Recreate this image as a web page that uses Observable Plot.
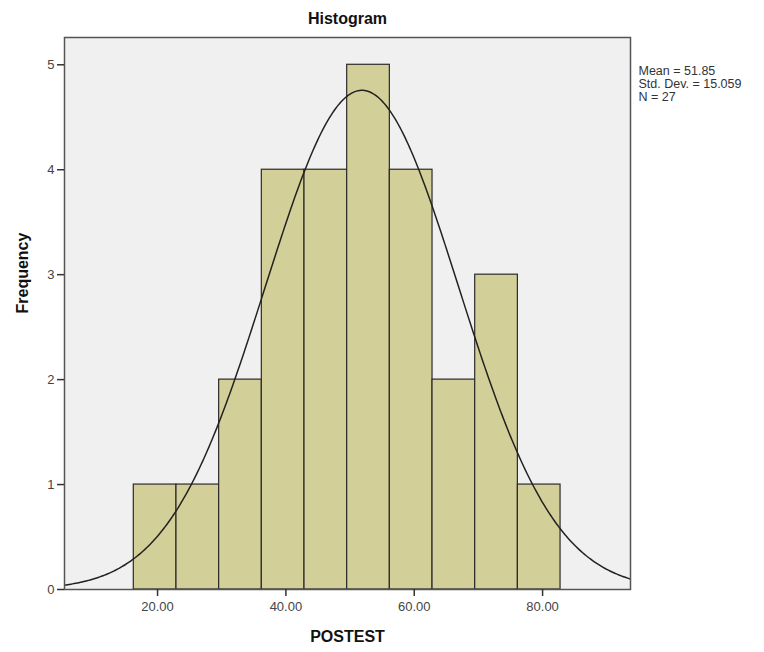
<!DOCTYPE html>
<html><head><meta charset="utf-8">
<script src="https://cdn.jsdelivr.net/npm/d3@7"></script>
<script src="https://cdn.jsdelivr.net/npm/@observablehq/plot@0.6"></script>
<style>
body{margin:0;background:#fff;font-family:Arial,"Liberation Sans",sans-serif;}
</style></head><body>
<div id="chart"></div>
<script>
// Histogram data (POSTEST)
const binStarts = [16.3, 22.95, 29.6, 36.25, 42.9, 49.55, 56.2, 62.85, 69.5, 76.15];
const binWidth = 6.65;
const counts = [1, 1, 2, 4, 4, 5, 4, 2, 3, 1];
const yTicks = [0, 1, 2, 3, 4, 5];
const xTicks = [20, 40, 60, 80];
const statLines = ["Mean = 51.85", "Std. Dev. = 15.059", "N = 27"];
const mean = 51.85, sd = 15.059, n = 27;

const bins = binStarts.map((s, i) => ({x1: s, x2: s + binWidth, count: counts[i]}));
// fitted normal curve scaled to the histogram (from the stated mean, sd, N)
const xs = d3.range(5.5, 93.8, 0.25);
const curve = xs.map(x => ({x, y: n * binWidth * Math.exp(-0.5 * ((x - mean) / sd) ** 2) / (sd * Math.sqrt(2 * Math.PI))}));

const font = 'Arial, "Liberation Sans", sans-serif';
const chart = Plot.plot({
  width: 764, height: 652,
  marginLeft: 64, marginRight: 134, marginTop: 37, marginBottom: 63,
  style: {fontFamily: font, fontSize: "12px", color: "#444", background: "#fff"},
  x: {domain: [5.5, 93.7], label: null},
  y: {domain: [0, 5.26], label: null},
  marks: [
    Plot.frame({fill: "#f0f0f0", stroke: "none"}),
    Plot.rectY(bins, {x1: "x1", x2: "x2", y: "count", fill: "#d3cf98", stroke: "#2b2b2b", strokeWidth: 1.2}),
    Plot.line(curve, {x: "x", y: "y", stroke: "#222", strokeWidth: 1.5, clip: true}),
    Plot.frame({stroke: "#555", strokeWidth: 1.5}),
    Plot.axisX({ticks: xTicks, tickFormat: d3.format(".2f"), tickSize: 7, tickPadding: 5, stroke: "#333", strokeWidth: 1.5, fontSize: 13, fill: "#444", label: null}),
    Plot.axisY({ticks: yTicks, tickFormat: d3.format("d"), tickSize: 7, tickPadding: 3, stroke: "#333", strokeWidth: 1.5, fontSize: 13, fill: "#444", label: null}),
    Plot.text(["Histogram"], {frameAnchor: "top", dy: -25, fontSize: 16, fontWeight: "bold", fill: "#111"}),
    Plot.text(["POSTEST"], {frameAnchor: "bottom", dy: 52, fontSize: 16, fontWeight: "bold", fill: "#111"}),
    Plot.text(["Frequency"], {frameAnchor: "left", dx: -42, rotate: -90, fontSize: 16, fontWeight: "bold", fill: "#111"}),
    Plot.text([statLines.join("\n")], {frameAnchor: "top-right", dx: 8, dy: 28, textAnchor: "start", lineAnchor: "top", lineHeight: 1.05, fontSize: 12.5, fill: "#333"})
  ]
});
document.getElementById("chart").appendChild(chart);
</script>
</body></html>
